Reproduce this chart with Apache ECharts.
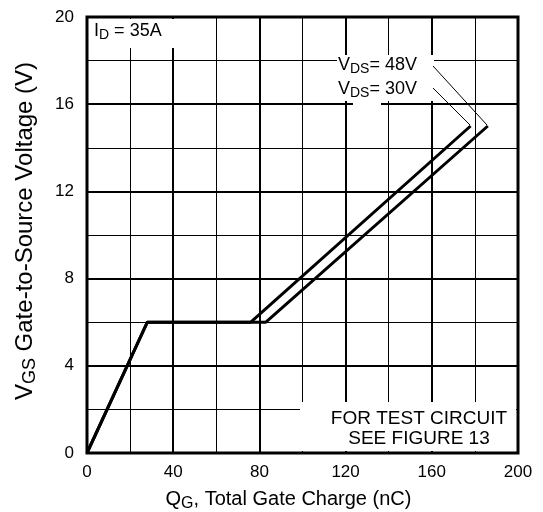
<!DOCTYPE html>
<html>
<head>
<meta charset="utf-8">
<script src="https://cdn.jsdelivr.net/npm/echarts@6/dist/echarts.min.js"></script>
<style>
html,body{margin:0;padding:0;background:#fff;}
#chart{width:543px;height:512px;}
</style>
</head>
<body>
<div id="chart"></div>
<script>
// Data
const qg30 = [0, 28, 76, 178];
const vgs30 = [0, 6, 6, 15];
const qg48 = [0, 28, 83, 186];
const vgs48 = [0, 6, 6, 15];
const xMin = 0, xMax = 200, xStep = 40;
const yMin = 0, yMax = 20, yStep = 4;

const FONT = "'Liberation Sans', Arial, sans-serif";
const chart = echarts.init(document.getElementById('chart'), null, {renderer: 'canvas'});

function pairs(xs, ys) { return xs.map((x, i) => [x, ys[i]]); }

const subRich = {
  a: {fontSize: 18, fontFamily: FONT, color: '#000'},
  s: {fontSize: 14, fontFamily: FONT, color: '#000', padding: [8, 0, 0, 0]}
};

const option = {
  animation: false,
  backgroundColor: '#fff',
  grid: {left: 87, right: 25, top: 17, bottom: 59, show: true, borderColor: '#000', borderWidth: 3,
         backgroundColor: 'transparent', outerBoundsMode: 'none', containLabel: false},
  xAxis: {
    type: 'value', min: xMin, max: xMax, interval: xStep,
    axisLine: {show: false}, axisTick: {show: false},
    axisLabel: {color: '#000', fontSize: 17, fontFamily: FONT, margin: 11},
    splitLine: {show: true, lineStyle: {color: '#000', width: 2}},
    minorTick: {show: false, splitNumber: 2},
    minorSplitLine: {show: true, lineStyle: {color: '#000', width: 1}},
    name: '{a|Q}{s|G}{a|, Total Gate Charge (nC)}',
    nameLocation: 'middle', nameGap: 34,
    nameTextStyle: {padding: [0, 28, 0, 0], rich: {
      a: {fontSize: 20, fontFamily: FONT, color: '#000'},
      s: {fontSize: 16, fontFamily: FONT, color: '#000', padding: [9, 0, 0, 0]}
    }}
  },
  yAxis: {
    type: 'value', min: yMin, max: yMax, interval: yStep,
    axisLine: {show: false}, axisTick: {show: false},
    axisLabel: {color: '#000', fontSize: 17, fontFamily: FONT, margin: 13},
    splitLine: {show: true, lineStyle: {color: '#000', width: 2}},
    minorTick: {show: false, splitNumber: 2},
    minorSplitLine: {show: true, lineStyle: {color: '#000', width: 1}},
    name: '{a|V}{s|GS}{a| Gate-to-Source Voltage (V)}',
    nameLocation: 'middle', nameGap: 48, nameRotate: 90,
    nameTextStyle: {padding: [0, 0, 0, 8], rich: {
      a: {fontSize: 24, fontFamily: FONT, color: '#000'},
      s: {fontSize: 18, fontFamily: FONT, color: '#000', padding: [10, 0, 0, 0]}
    }}
  },
  series: [
    {name: 'VDS = 30V', type: 'line', data: pairs(qg30, vgs30), showSymbol: false, symbol: 'none',
     lineStyle: {color: '#000', width: 3}, z: 5},
    {name: 'VDS = 48V', type: 'line', data: pairs(qg48, vgs48), showSymbol: false, symbol: 'none',
     lineStyle: {color: '#000', width: 3}, z: 5}
  ],
  graphic: [
    // white boxes covering the grid behind annotations
    {type: 'rect', z: 3, shape: {x: 89, y: 19, width: 86, height: 29}, style: {fill: '#fff'}},
    {type: 'rect', z: 3, shape: {x: 337, y: 55, width: 97, height: 46}, style: {fill: '#fff'}},
    {type: 'rect', z: 3, shape: {x: 353, y: 100, width: 28, height: 6}, style: {fill: '#fff'}},
    {type: 'rect', z: 3, shape: {x: 300, y: 402, width: 216, height: 49}, style: {fill: '#fff'}},
    // annotation texts
    {type: 'text', z: 10, x: 94, y: 31, style: {text: '{a|I}{s|D}{a| = 35A}', rich: subRich, verticalAlign: 'middle', textAlign: 'left'}},
    {type: 'text', z: 10, x: 338, y: 65, style: {text: '{a|V}{s|DS}{a|= 48V}', rich: subRich, verticalAlign: 'middle', textAlign: 'left'}},
    {type: 'text', z: 10, x: 338, y: 89, style: {text: '{a|V}{s|DS}{a|= 30V}', rich: subRich, verticalAlign: 'middle', textAlign: 'left'}},
    {type: 'text', z: 10, x: 419, y: 419, style: {text: 'FOR TEST CIRCUIT', fill: '#000', font: '19px ' + FONT, textAlign: 'center', verticalAlign: 'middle'}},
    {type: 'text', z: 10, x: 419, y: 439, style: {text: 'SEE FIGURE 13', fill: '#000', font: '19px ' + FONT, textAlign: 'center', verticalAlign: 'middle'}},
    // leader lines
    {type: 'line', z: 10, shape: {x1: 433, y1: 66, x2: 487, y2: 125}, style: {stroke: '#000', lineWidth: 1}},
    {type: 'line', z: 10, shape: {x1: 433, y1: 88, x2: 470, y2: 125}, style: {stroke: '#000', lineWidth: 1}}
  ]
};
chart.setOption(option);
</script>
</body>
</html>
